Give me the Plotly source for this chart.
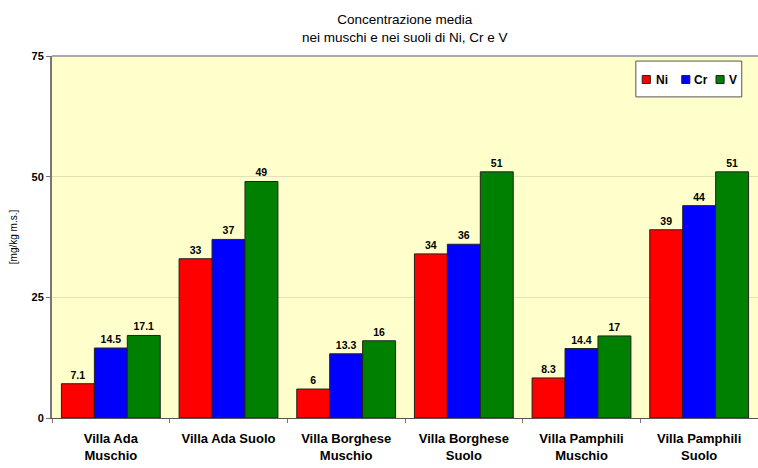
import plotly.graph_objects as go

categories = ["Villa Ada<br>Muschio", "Villa Ada Suolo", "Villa Borghese<br>Muschio",
              "Villa Borghese<br>Suolo", "Villa Pamphili<br>Muschio", "Villa Pamphili<br>Suolo"]
ni = [7.1, 33, 6, 34, 8.3, 39]
cr = [14.5, 37, 13.3, 36, 14.4, 44]
v = [17.1, 49, 16, 51, 17, 51]
series = [("Ni", ni, "#FF0000"), ("Cr", cr, "#0000FF"), ("V", v, "#008000")]

FONT = "Liberation Sans, Arial, sans-serif"
fig = go.Figure()
for name, vals, col in series:
    fig.add_trace(go.Bar(
        name=name, x=categories, y=vals, showlegend=False,
        marker=dict(color=col, line=dict(color="#222222", width=1)),
        text=[str(x) for x in vals], textposition="outside", cliponaxis=False,
        textfont=dict(family=FONT, size=10.5, color="#000000", weight="bold"),
    ))

# compact legend drawn in plot-area (paper) coordinates
shapes = [dict(type="line", xref="paper", yref="paper", x0=0, x1=1, y0=1, y1=1,
               line=dict(color="#AAAAAA", width=2)),
          dict(type="rect", xref="paper", yref="paper", x0=0.827, x1=0.977, y0=0.887, y1=0.986,
               fillcolor="white", line=dict(color="#555555", width=1))]
annotations = [dict(xref="paper", yref="paper", x=0.5, y=1.076, xanchor="center",
                    yanchor="middle", showarrow=False,
                    text="Concentrazione media<br>nei muschi e nei suoli di Ni, Cr e V",
                    font=dict(family=FONT, size=13.5, color="#000000"))]
sq_x = [0.836, 0.892, 0.9405]
tx_x = [0.852, 0.907, 0.956]
for (name, vals, col), sx, tx in zip(series, sq_x, tx_x):
    shapes.append(dict(type="rect", xref="paper", yref="paper", x0=sx, x1=sx + 0.0115,
                       y0=0.924, y1=0.946, fillcolor=col, line=dict(color="#222222", width=1)))
    annotations.append(dict(xref="paper", yref="paper", x=tx, y=0.935, xanchor="left",
                            yanchor="middle", text=name, showarrow=False,
                            font=dict(family=FONT, size=12, color="#000000", weight="bold")))

fig.update_layout(
    width=758, height=468,
    margin=dict(l=52, r=0, t=56, b=50),
    paper_bgcolor="white", plot_bgcolor="#FFFFCC",
    barmode="group", bargap=0.16, bargroupgap=0,
    xaxis=dict(tickson="boundaries", ticks="outside", ticklen=4, tickcolor="#777777",
               showline=True, linecolor="#555555", linewidth=1, ticklabelstandoff=8,
               tickfont=dict(family=FONT, size=13, color="#000000", weight="bold")),
    yaxis=dict(range=[0, 75], tickvals=[0, 25, 50, 75], ticks="outside", ticklen=4,
               tickcolor="#777777", showline=True, linecolor="#777777", linewidth=2,
               showgrid=True, gridcolor="#E6E0B8", gridwidth=1, zeroline=False,
               tickfont=dict(family=FONT, size=11, color="#000000", weight="bold"),
               title=dict(text="[mg/kg m.s.]", standoff=12,
                          font=dict(family=FONT, size=10, color="#000000"))),
    shapes=shapes, annotations=annotations,
)
fig.write_html("out.html")
